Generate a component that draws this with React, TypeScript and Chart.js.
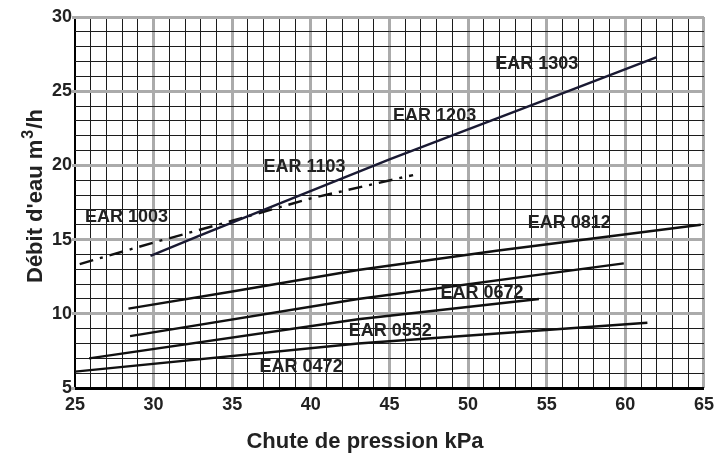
import React, { useEffect, useRef } from "react";
import { Chart, registerables } from "chart.js";

Chart.register(...registerables);

const FONT = "'Liberation Sans', Arial, Helvetica, sans-serif";

// Axis ranges / tick labels
const xMajorTicks = [25, 30, 35, 40, 45, 50, 55, 60, 65];
const yMajorTicks = [5, 10, 15, 20, 25, 30];

// Axis titles
const xTitle = "Chute de pression kPa";
const yTitleMain = "Débit d'eau m";
const yTitleSup = "3";
const yTitleEnd = "/h";

// Curves (x = Chute de pression kPa, y = Débit d'eau m³/h)
const ear1103_1303X = [29.8, 33, 37, 45, 55, 62];
const ear1103_1303Y = [13.9, 15.3, 17.0, 20.4, 24.45, 27.3];

const ear1003X = [25.3, 30, 35, 40, 46.5];
const ear1003Y = [13.35, 14.8, 16.27, 17.78, 19.35];

const ear0812X = [28.4, 35, 43, 51.8, 64.8];
const ear0812Y = [10.35, 11.5, 12.95, 14.25, 16.0];

const ear0672X = [28.5, 43, 59.9];
const ear0672Y = [8.5, 11.0, 13.4];

const ear0552X = [25.9, 43, 54.5];
const ear0552Y = [7.0, 9.63, 11.0];

const ear0472X = [25, 43, 61.4];
const ear0472Y = [6.1, 8.0, 9.4];

// Curve labels and their anchor values
const curveLabels = ["EAR 1303", "EAR 1203", "EAR 1103", "EAR 1003", "EAR 0812", "EAR 0672", "EAR 0552", "EAR 0472"];
const curveLabelX = [54.37, 47.87, 39.6, 28.28, 56.43, 50.88, 45.05, 39.38];
const curveLabelY = [26.8, 23.31, 19.91, 16.5, 16.12, 11.38, 8.86, 6.44];

const toPoints = (xs: number[], ys: number[]) => xs.map((x, i) => ({ x, y: ys[i] }));

const GREY = "#ababab";
const INK = "#1c1c1c";
const TEXT = "#222";

const labelPlugin = {
  id: "curveLabels",
  afterDatasetsDraw(chart: any) {
    const { ctx, scales } = chart;
    ctx.save();
    ctx.font = `bold 18px ${FONT}`;
    ctx.fillStyle = TEXT;
    ctx.textAlign = "center";
    ctx.textBaseline = "middle";
    curveLabels.forEach((t, i) => {
      ctx.fillText(t, scales.x.getPixelForValue(curveLabelX[i]), scales.y.getPixelForValue(curveLabelY[i]));
    });
    ctx.restore();
  },
};

const axisTitlePlugin = {
  id: "axisTitles",
  afterDraw(chart: any) {
    const { ctx, chartArea } = chart;
    ctx.save();
    ctx.fillStyle = TEXT;
    // x title
    ctx.font = `bold 22px ${FONT}`;
    ctx.textAlign = "center";
    ctx.textBaseline = "alphabetic";
    ctx.fillText(xTitle, chartArea.left + 290, 447.5);
    // y title (rotated), with raised superscript
    ctx.translate(42, chartArea.top + 266);
    ctx.rotate(-Math.PI / 2);
    ctx.textAlign = "left";
    ctx.font = `bold 22px ${FONT}`;
    ctx.fillText(yTitleMain, 0, 0);
    let w = ctx.measureText(yTitleMain).width + 1;
    ctx.font = `bold 16px ${FONT}`;
    ctx.fillText(yTitleSup, w, -9);
    w += ctx.measureText(yTitleSup).width + 1;
    ctx.font = `bold 22px ${FONT}`;
    ctx.fillText(yTitleEnd, w, 0);
    ctx.restore();
  },
};

export default function App() {
  const ref = useRef<HTMLCanvasElement | null>(null);
  useEffect(() => {
    if (!ref.current) return;
    const lineDs = (label: string, xs: number[], ys: number[], color: string, dash: number[] = []) => ({
      label,
      data: toPoints(xs, ys),
      borderColor: color,
      borderWidth: 2.4,
      borderDash: dash,
      pointRadius: 0,
      fill: false,
      tension: 0,
    });
    const chart = new Chart(ref.current, {
      type: "line",
      data: {
        datasets: [
          lineDs("EAR 1103 - 1303", ear1103_1303X, ear1103_1303Y, "#1a1a33"),
          lineDs("EAR 1003", ear1003X, ear1003Y, "#111", [14, 7, 3, 7]),
          lineDs("EAR 0812", ear0812X, ear0812Y, "#111"),
          lineDs("EAR 0672", ear0672X, ear0672Y, "#111"),
          lineDs("EAR 0552", ear0552X, ear0552Y, "#111"),
          lineDs("EAR 0472", ear0472X, ear0472Y, "#111"),
        ],
      },
      options: {
        responsive: false,
        animation: false,
        devicePixelRatio: 1,
        layout: { padding: { top: 17, right: 10, left: 0, bottom: 0 } },
        plugins: { legend: { display: false }, tooltip: { enabled: false } },
        scales: {
          x: {
            type: "linear",
            min: xMajorTicks[0],
            max: xMajorTicks[xMajorTicks.length - 1],
            afterFit: (s: any) => {
              s.height = 65;
            },
            ticks: {
              stepSize: 1,
              autoSkip: false,
              maxRotation: 0,
              padding: 6,
              color: TEXT,
              font: { family: FONT, size: 18, weight: "bold" },
              callback: (v: any) => (xMajorTicks.includes(Number(v)) ? String(v) : ""),
            },
            grid: {
              drawTicks: false,
              color: (c: any) => (c.tick && c.tick.value === 25 ? "#000" : c.tick && c.tick.value % 5 === 0 ? GREY : INK),
              lineWidth: (c: any) => (c.tick && c.tick.value === 25 ? 2 : c.tick && c.tick.value % 5 === 0 ? 3 : 1),
            },
            border: { display: false },
          },
          y: {
            type: "linear",
            min: yMajorTicks[0],
            max: yMajorTicks[yMajorTicks.length - 1],
            afterFit: (s: any) => {
              s.width = 75;
            },
            ticks: {
              stepSize: 1,
              autoSkip: false,
              padding: 0,
              color: TEXT,
              font: { family: FONT, size: 18, weight: "bold" },
              callback: (v: any) => (yMajorTicks.includes(Number(v)) ? String(v) : ""),
            },
            grid: {
              drawTicks: true,
              tickLength: 3,
              tickColor: (c: any) => (c.tick && c.tick.value % 5 === 0 ? GREY : "rgba(0,0,0,0)"),
              tickWidth: 3,
              color: (c: any) => (c.tick && c.tick.value === 5 ? "#000" : c.tick && c.tick.value % 5 === 0 ? GREY : INK),
              lineWidth: (c: any) => (c.tick && c.tick.value % 5 === 0 ? 3 : 1),
            },
            border: { display: false },
          },
        },
      } as any,
      plugins: [labelPlugin, axisTitlePlugin],
    });
    return () => chart.destroy();
  }, []);
  return (
    <div style={{ position: "fixed", left: 0, top: 0, width: 720, height: 453, background: "#fff" }}>
      <canvas ref={ref} width={720} height={453} style={{ display: "block" }} />
    </div>
  );
}
